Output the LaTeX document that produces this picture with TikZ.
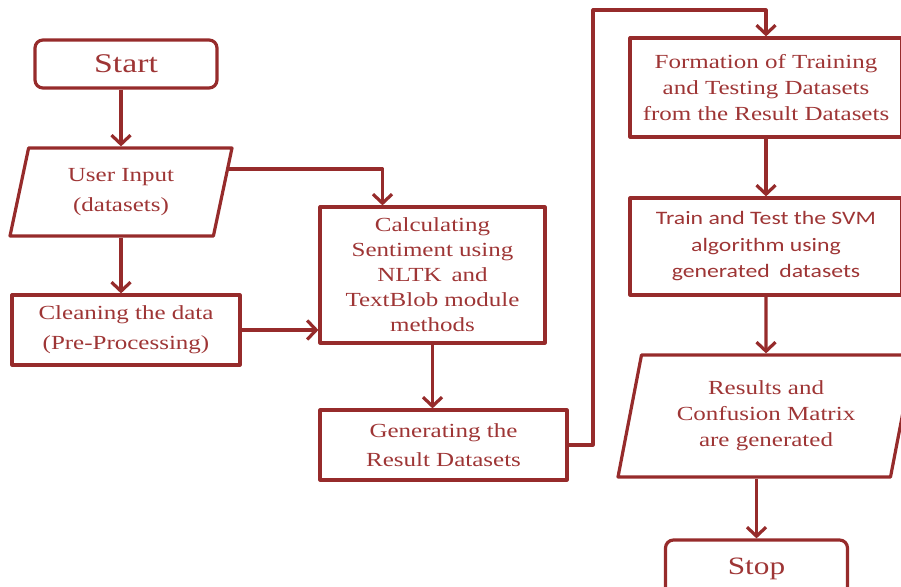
\documentclass[tikz,border=0pt]{standalone}
\usepackage{fontspec}
\setmainfont[FakeStretch=1.25]{Liberation Serif}
\newfontfamily\sansbody[FakeStretch=1.25]{Carlito}
\usetikzlibrary{arrows.meta,shapes.geometric}
\definecolor{flowred}{HTML}{962B2B}
\definecolor{flowtext}{HTML}{9E3535}

\begin{document}
\begin{tikzpicture}[x=1pt, y=-1pt, >={Straight Barb[length=9pt,width=19pt]},
  line width=3.2pt, line join=round,
  every node/.style={align=center, text=flowtext},
  termbox/.style={draw=flowred, rounded corners=8pt, minimum width=182pt, minimum height=48pt},
  procbox/.style={draw=flowred, rectangle},
  iobox/.style={draw=flowred, trapezium, trapezium stretches body},
  flow/.style={->, draw=flowred}]

%%=== COORDINATE PLAN (pt, y downwards) ==============================
%%  Canvas 901 x 586; right column runs past the right edge
%%  Left column  x-centre ~121..126   Middle column x ~432..443
%%  Right column x-centre ~766        Loop-back elbow at x=593, y=10
%%  Stop box runs past the bottom edge
%%====================================================================
\useasboundingbox (0,0) rectangle (901,586);

%% --- Left column ---------------------------------------------------
\node[termbox, font=\fontsize{27}{30}\selectfont] (start) at (126,64) {Start};

\node[iobox, trapezium left angle=71, trapezium right angle=109,
      minimum width=222pt, minimum height=88pt,
      font=\fontsize{20}{30}\selectfont]
  (input) at (121,192) {User Input\\(datasets)};

\node[procbox, minimum width=228pt, minimum height=70pt,
      font=\fontsize{20}{30}\selectfont]
  (clean) at (126,330) {Cleaning the data\\(Pre-Processing)};

%% --- Middle column -------------------------------------------------
\node[procbox, minimum width=225pt, minimum height=136pt,
      font=\fontsize{20}{25}\selectfont]
  (calc) at (432.5,275)
  {Calculating\\Sentiment using\\NLTK\enspace and\\TextBlob module\\methods};

\node[procbox, minimum width=247pt, minimum height=70pt,
      font=\fontsize{20}{29}\selectfont]
  (gen) at (443.5,445) {Generating the\\Result Datasets};

%% --- Right column --------------------------------------------------
\node[procbox, minimum width=272pt, minimum height=99pt,
      font=\fontsize{20}{26}\selectfont]
  (form) at (766,87.5)
  {Formation of Training\\and Testing Datasets\\from the Result Datasets};

\node[procbox, minimum width=272pt, minimum height=97pt,
      font=\sansbody\fontsize{19}{26.5}\selectfont]
  (train) at (766,246.5)
  {Train and Test the SVM\\algorithm using\\generated\enspace datasets};

\node[iobox, trapezium left angle=73, trapezium right angle=107,
      minimum width=296pt, minimum height=122pt,
      font=\fontsize{20}{26}\selectfont]
  (results) at (766,416) {Results and\\Confusion Matrix\\are generated};

\node[termbox, minimum height=58pt, font=\fontsize{25}{30}\selectfont]
  (stop) at (756.5,569) {Stop};

%% --- Connectors ----------------------------------------------------

%% start -> input -> clean (straight down)
\draw[flow] (start.south -| input.north) -- (input.north);
\draw[flow] (input.south) -- (input.south |- clean.north);

%% input -> calc: right, then down into calc
\draw[flow] (input.12) -| ([xshift=-50pt]calc.north);

%% clean -> calc
\draw[flow] (clean.east) -- (clean.east -| calc.west);

%% calc -> gen
\draw[flow] (calc.south) -- (calc.south |- gen.north);

%% gen -> form: loop up over the top, elbow at x=593, y=10
\draw[flow] (gen.east) -| (593,10) -| (form.north);

%% form -> train -> results -> stop
\draw[flow] (form) -- (train);
\draw[flow] (train) -- (results);
\draw[flow] (results.south -| stop.north) -- (stop);

\end{tikzpicture}
\end{document}
